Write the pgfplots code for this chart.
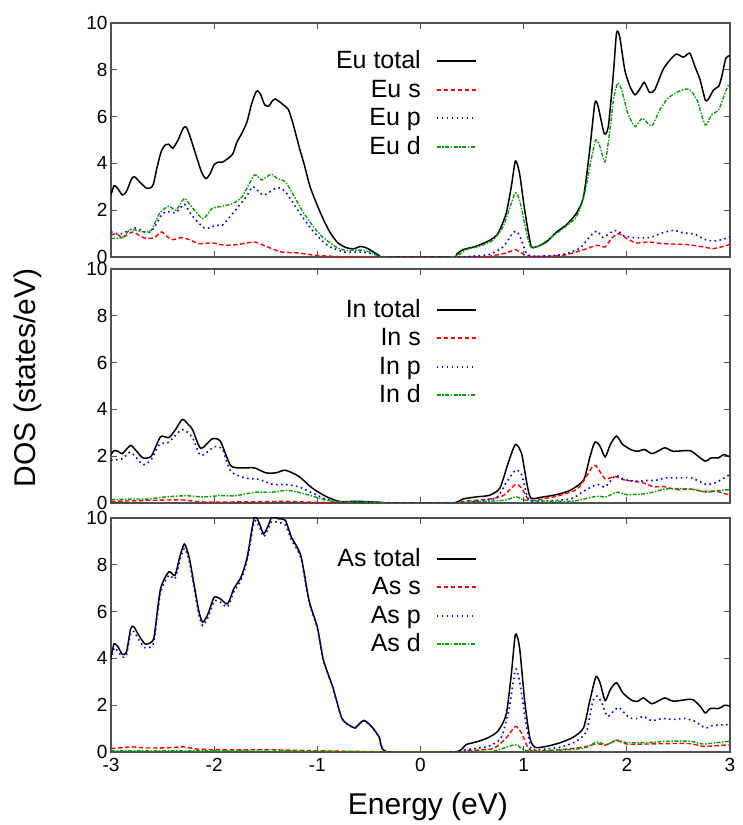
\documentclass[border=0pt]{standalone}
\usepackage{fontspec}
\setmainfont{Liberation Sans}
\usepackage{pgfplots}
\pgfplotsset{compat=1.18}
\definecolor{gpred}{RGB}{255,0,0}
\definecolor{gpblue}{RGB}{0,0,255}
\definecolor{gpgreen}{RGB}{0,160,0}
\definecolor{axgray}{RGB}{80,80,80}
\pgfplotsset{
  dosaxis/.style={
    scale only axis, width=619bp, height=234bp,
    xmin=-3, xmax=3, ymin=0, ymax=10,
    xtick={-3,-2,...,3}, ytick={0,2,...,10},
    tick align=inside, major tick length=6bp,
    axis line style={axgray, line width=1.1bp},
    every tick/.style={axgray, line width=1.1bp},
    tick label style={font=\fontsize{19bp}{22bp}\selectfont},
    xticklabel style={yshift=-2.5bp},
    /pgf/number format/assume math mode=true,
    legend cell align=right, legend plot pos=right,
    legend style={draw=none, fill=none, anchor=north east, inner sep=0pt,
      font=\fontsize{25bp}{28.5bp}\selectfont, row sep=0pt, column sep=15bp,
      nodes={inner sep=0pt, text height=21.65bp, text depth=6.85bp}},
    legend image code/.code={\draw[##1, line width=2bp] (0bp,0bp) -- (39bp,0bp);},
  },
  tot/.style={black, line width=1.5bp},
  sst/.style={gpred, line width=1.4bp, dash pattern=on 4.5bp off 2.5bp},
  pst/.style={gpblue, line width=1.6bp, dash pattern=on 1.6bp off 3.4bp},
  dst/.style={gpgreen, line width=1.4bp, dash pattern=on 4bp off 1.5bp on 1.5bp off 1.5bp},
  sm/.style={smooth, tension=0.4},
}
\begin{document}
\begin{tikzpicture}[x=1bp,y=1bp]
\useasboundingbox (0,0) rectangle (743,825);
% ---------------- Eu panel ----------------
\begin{axis}[dosaxis, at={(111bp,568bp)}, anchor=south west, xticklabels={},
  legend style={at={(rel axis cs:0.5913,0.8975)}}]
\addplot[tot, sm] table {
-3.00 2.65
-2.97 3.05
-2.93 2.90
-2.89 2.65
-2.85 2.80
-2.80 3.35
-2.77 3.42
-2.72 3.20
-2.66 2.95
-2.62 2.95
-2.59 3.10
-2.55 3.90
-2.51 4.55
-2.47 4.80
-2.44 4.82
-2.40 4.65
-2.35 5.00
-2.30 5.50
-2.27 5.55
-2.23 5.10
-2.18 4.40
-2.12 3.60
-2.08 3.35
-2.04 3.55
-2.00 3.95
-1.96 4.05
-1.92 4.05
-1.87 4.20
-1.82 4.40
-1.78 4.90
-1.73 5.30
-1.68 5.80
-1.64 6.50
-1.60 7.00
-1.58 7.10
-1.55 6.95
-1.51 6.50
-1.47 6.45
-1.44 6.65
-1.41 6.75
-1.37 6.65
-1.33 6.50
-1.28 6.30
-1.23 5.60
-1.17 4.60
-1.13 4.00
-1.07 3.00
-1.00 2.20
-0.93 1.50
-0.87 1.00
-0.80 0.60
-0.72 0.40
-0.65 0.35
-0.58 0.45
-0.52 0.38
-0.45 0.20
-0.40 0.06
-0.35 0.00
0.30 0.00
0.35 0.12
0.41 0.31
0.54 0.46
0.67 0.71
0.75 1.00
0.83 1.86
0.88 3.00
0.92 4.10
0.96 3.57
1.01 2.00
1.07 0.50
1.12 0.43
1.22 0.64
1.32 1.07
1.41 1.36
1.51 1.86
1.58 2.57
1.64 4.57
1.69 6.57
1.72 6.46
1.78 5.29
1.82 5.57
1.87 7.86
1.90 9.57
1.93 9.43
1.98 8.00
2.03 7.29
2.08 6.93
2.13 7.21
2.17 7.46
2.22 7.03
2.27 7.14
2.35 8.00
2.42 8.43
2.48 8.67
2.55 8.54
2.61 8.71
2.66 8.14
2.71 7.57
2.76 6.71
2.79 6.74
2.84 7.14
2.89 7.29
2.92 7.71
2.96 8.50
3.00 8.60
};
\addlegendentry{Eu total}
\addplot[sst, sm] table {
-3.00 0.93
-2.95 1.00
-2.89 0.83
-2.79 1.07
-2.72 0.90
-2.66 0.79
-2.58 0.83
-2.51 1.07
-2.45 0.85
-2.40 0.74
-2.31 0.83
-2.22 0.70
-2.15 0.57
-2.02 0.60
-1.89 0.50
-1.76 0.54
-1.61 0.64
-1.50 0.46
-1.42 0.32
-1.34 0.21
-1.18 0.17
-1.02 0.07
-0.85 0.03
-0.60 0.00
0.60 0.00
0.67 0.03
0.83 0.17
0.92 0.31
0.99 0.14
1.06 0.03
1.38 0.07
1.58 0.31
1.71 0.50
1.79 0.43
1.85 0.79
1.92 1.00
2.00 0.79
2.09 0.60
2.22 0.64
2.35 0.57
2.58 0.53
2.74 0.43
2.84 0.36
2.94 0.46
3.00 0.54
};
\addlegendentry{Eu s}
\addplot[pst, sm] table {
-3.00 1.07
-2.95 1.00
-2.89 1.00
-2.77 1.24
-2.66 1.04
-2.60 1.14
-2.50 1.86
-2.44 1.93
-2.37 1.90
-2.29 2.26
-2.23 1.86
-2.15 1.45
-2.08 1.21
-1.98 1.36
-1.92 1.36
-1.82 1.86
-1.69 2.57
-1.63 3.00
-1.58 2.85
-1.52 2.64
-1.39 2.96
-1.31 2.79
-1.21 2.14
-1.11 1.50
-1.02 1.00
-0.89 0.46
-0.73 0.21
-0.56 0.21
-0.45 0.12
-0.35 0.00
0.30 0.00
0.48 0.03
0.67 0.11
0.80 0.43
0.88 0.93
0.92 1.11
0.96 0.93
1.03 0.14
1.12 0.03
1.38 0.11
1.54 0.36
1.64 0.86
1.71 1.11
1.77 0.83
1.84 1.04
1.91 1.14
1.96 0.93
2.06 0.83
2.22 0.83
2.35 1.04
2.45 1.14
2.55 1.03
2.66 0.97
2.76 0.74
2.87 0.69
3.00 0.86
};
\addlegendentry{Eu p}
\addplot[dst, sm] table {
-3.00 0.79
-2.89 0.83
-2.81 1.17
-2.68 1.07
-2.61 1.14
-2.53 1.86
-2.44 2.17
-2.37 2.00
-2.29 2.50
-2.23 2.21
-2.11 1.64
-2.02 2.07
-1.92 2.17
-1.82 2.29
-1.73 2.57
-1.61 3.50
-1.54 3.29
-1.45 3.54
-1.39 3.36
-1.31 3.21
-1.23 2.64
-1.15 2.00
-1.05 1.36
-0.95 0.86
-0.82 0.43
-0.73 0.29
-0.56 0.29
-0.45 0.15
-0.35 0.00
0.30 0.00
0.44 0.31
0.57 0.46
0.70 0.71
0.80 1.29
0.88 2.29
0.92 2.74
0.96 2.43
1.03 1.00
1.07 0.43
1.16 0.50
1.25 0.79
1.38 1.21
1.51 1.71
1.59 2.71
1.66 4.29
1.70 5.00
1.74 4.71
1.79 4.07
1.84 5.57
1.87 6.71
1.91 7.43
1.95 7.14
2.01 6.14
2.08 5.57
2.15 5.93
2.24 5.60
2.32 6.29
2.40 6.79
2.50 7.07
2.60 7.17
2.68 6.71
2.76 5.64
2.82 6.07
2.89 6.29
2.94 6.86
2.98 7.31
3.00 7.31
};
\addlegendentry{Eu d}
\end{axis}
% ---------------- In panel ----------------
\begin{axis}[dosaxis, at={(111bp,322bp)}, anchor=south west, xticklabels={},
  legend style={at={(rel axis cs:0.5913,0.887)}},
  ylabel={DOS (states/eV)},
  ylabel style={at={(axis description cs:-0.134,0.534)}, anchor=center, font=\fontsize{30bp}{34bp}\selectfont}]
\addplot[tot, sm] table {
-3.00 2.07
-2.97 2.24
-2.93 2.20
-2.89 2.11
-2.81 2.46
-2.75 2.20
-2.69 1.93
-2.61 2.00
-2.52 2.83
-2.44 2.79
-2.38 3.10
-2.31 3.57
-2.26 3.40
-2.21 3.14
-2.13 2.33
-2.02 2.74
-1.94 2.64
-1.84 1.60
-1.73 1.50
-1.61 1.50
-1.50 1.29
-1.40 1.29
-1.31 1.40
-1.18 1.14
-1.05 0.64
-0.92 0.29
-0.79 0.07
-0.60 0.07
-0.40 0.03
-0.30 0.00
0.30 0.00
0.41 0.17
0.54 0.26
0.67 0.33
0.77 0.64
0.85 1.71
0.92 2.50
0.98 2.11
1.03 0.86
1.07 0.21
1.19 0.26
1.32 0.36
1.45 0.54
1.58 0.97
1.64 1.93
1.69 2.60
1.74 2.43
1.79 1.97
1.84 2.50
1.90 2.86
1.96 2.50
2.05 2.26
2.11 2.21
2.17 2.29
2.24 2.11
2.30 2.21
2.37 2.36
2.45 2.21
2.61 2.24
2.69 2.00
2.76 1.79
2.82 1.93
2.89 1.93
2.94 2.07
3.00 1.97
};
\addlegendentry{In total}
\addplot[sst, sm] table {
-3.00 0.07
-2.79 0.09
-2.55 0.12
-2.31 0.13
-2.08 0.04
-1.50 0.06
-1.31 0.07
-1.02 0.03
-0.40 0.00
0.35 0.00
0.41 0.07
0.67 0.17
0.80 0.31
0.92 0.79
0.98 0.64
1.04 0.17
1.09 0.11
1.32 0.29
1.51 0.57
1.59 1.00
1.66 1.50
1.70 1.60
1.79 1.03
1.88 1.14
1.96 1.00
2.06 0.93
2.16 0.86
2.26 0.69
2.35 0.71
2.48 0.57
2.61 0.60
2.74 0.50
2.87 0.50
3.00 0.33
};
\addlegendentry{In s}
\addplot[pst, sm] table {
-3.00 1.83
-2.89 1.89
-2.81 2.17
-2.69 1.64
-2.61 1.86
-2.53 2.50
-2.44 2.60
-2.31 3.14
-2.21 2.79
-2.13 2.03
-2.00 2.40
-1.92 2.29
-1.84 1.36
-1.70 1.07
-1.56 1.00
-1.43 0.79
-1.31 0.79
-1.18 0.69
-1.05 0.43
-0.92 0.17
-0.79 0.04
-0.40 0.03
-0.30 0.00
0.35 0.00
0.48 0.04
0.73 0.21
0.83 0.86
0.92 1.40
0.98 1.21
1.04 0.21
1.12 0.07
1.45 0.17
1.58 0.50
1.71 0.79
1.79 0.69
1.89 1.17
1.98 1.00
2.09 0.93
2.19 0.96
2.28 0.97
2.38 1.07
2.51 1.07
2.63 1.07
2.77 0.79
2.87 0.89
2.98 1.17
3.00 1.21
};
\addlegendentry{In p}
\addplot[dst, sm] table {
-3.00 0.14
-2.79 0.17
-2.63 0.17
-2.47 0.26
-2.27 0.31
-2.11 0.26
-1.95 0.31
-1.79 0.31
-1.60 0.46
-1.44 0.46
-1.30 0.54
-1.18 0.46
-1.02 0.26
-0.85 0.07
-0.40 0.03
-0.30 0.00
0.35 0.00
0.44 0.04
0.80 0.11
0.93 0.26
1.03 0.11
1.45 0.07
1.58 0.17
1.71 0.29
1.80 0.26
1.90 0.46
2.00 0.36
2.19 0.40
2.38 0.60
2.61 0.60
2.77 0.46
2.90 0.54
3.00 0.57
};
\addlegendentry{In d}
\end{axis}
% ---------------- As panel ----------------
\begin{axis}[dosaxis, at={(111bp,73bp)}, anchor=south west,
  legend style={at={(rel axis cs:0.5913,0.888)}},
  xlabel={Energy (eV)},
  xlabel style={at={(axis description cs:0.512,-0.235)}, anchor=center, font=\fontsize{30bp}{34bp}\selectfont}]
\addplot[tot, sm] table {
-3.00 4.05
-2.97 4.62
-2.93 4.48
-2.89 4.17
-2.85 4.27
-2.81 5.26
-2.78 5.36
-2.73 4.98
-2.67 4.62
-2.61 4.69
-2.58 4.98
-2.52 6.97
-2.44 7.70
-2.38 7.55
-2.33 8.40
-2.29 8.89
-2.26 8.60
-2.23 8.04
-2.15 6.05
-2.11 5.55
-2.06 5.90
-2.00 6.61
-1.94 6.54
-1.87 6.33
-1.81 6.97
-1.74 7.47
-1.68 8.32
-1.61 10.05
-1.56 9.74
-1.52 9.32
-1.47 9.74
-1.44 10.05
-1.37 9.96
-1.31 9.90
-1.25 9.17
-1.16 8.39
-1.08 6.47
-1.00 5.33
-0.94 3.91
-0.85 2.77
-0.76 1.42
-0.66 1.07
-0.63 1.04
-0.55 1.35
-0.47 1.07
-0.40 0.64
-0.32 0.00
0.33 0.00
0.44 0.31
0.54 0.43
0.65 0.60
0.75 0.89
0.83 1.60
0.88 3.31
0.92 5.03
0.96 4.46
1.01 2.17
1.06 0.60
1.11 0.20
1.22 0.24
1.35 0.39
1.48 0.63
1.58 1.03
1.64 2.17
1.70 3.21
1.74 2.96
1.79 2.20
1.84 2.67
1.90 2.96
1.96 2.53
2.05 2.20
2.11 2.17
2.16 2.31
2.24 2.06
2.30 2.17
2.37 2.31
2.45 2.17
2.58 2.24
2.64 2.24
2.71 1.96
2.76 1.67
2.81 1.86
2.89 1.86
2.95 2.00
3.00 1.96
};
\addlegendentry{As total}
\addplot[sst, sm] table {
-3.00 0.15
-2.90 0.18
-2.80 0.22
-2.65 0.17
-2.45 0.18
-2.30 0.22
-2.15 0.12
-1.80 0.09
-1.50 0.10
-1.00 0.05
-0.50 0.02
-0.32 0.00
0.35 0.00
0.44 0.06
0.70 0.14
0.83 0.60
0.92 1.09
0.98 0.81
1.04 0.20
1.11 0.03
1.45 0.14
1.61 0.24
1.71 0.36
1.79 0.29
1.90 0.49
2.00 0.34
2.19 0.34
2.42 0.36
2.61 0.36
2.74 0.24
2.87 0.27
3.00 0.31
};
\addlegendentry{As s}
\addplot[pst, sm] table {
-3.00 3.95
-2.97 4.45
-2.93 4.30
-2.89 4.05
-2.85 4.15
-2.81 5.05
-2.78 5.15
-2.73 4.80
-2.67 4.45
-2.61 4.50
-2.58 4.80
-2.52 6.80
-2.44 7.55
-2.38 7.40
-2.33 8.25
-2.29 8.70
-2.26 8.45
-2.23 7.90
-2.15 5.90
-2.11 5.40
-2.06 5.75
-2.00 6.45
-1.94 6.40
-1.87 6.20
-1.81 6.85
-1.74 7.35
-1.68 8.20
-1.61 9.85
-1.56 9.60
-1.52 9.20
-1.47 9.60
-1.44 9.85
-1.37 9.80
-1.31 9.70
-1.25 9.05
-1.16 8.30
-1.08 6.40
-1.00 5.30
-0.94 3.90
-0.85 2.75
-0.76 1.40
-0.66 1.05
-0.63 1.03
-0.55 1.33
-0.47 1.05
-0.40 0.62
-0.32 0.00
0.35 0.00
0.44 0.10
0.65 0.24
0.78 0.60
0.86 1.89
0.92 3.53
0.96 3.03
1.02 1.31
1.07 0.17
1.12 0.10
1.35 0.20
1.51 0.46
1.61 0.89
1.67 2.17
1.71 2.39
1.75 2.17
1.81 1.53
1.87 1.74
1.92 1.91
1.96 1.74
2.03 1.46
2.11 1.43
2.16 1.53
2.24 1.34
2.35 1.43
2.45 1.39
2.56 1.43
2.66 1.31
2.76 1.03
2.84 1.14
3.00 1.17
};
\addlegendentry{As p}
\addplot[dst, sm] table {
-3.00 0.05
-2.00 0.05
-1.00 0.03
-0.32 0.00
0.40 0.00
0.70 0.03
0.92 0.31
1.03 0.06
1.45 0.10
1.61 0.20
1.71 0.43
1.80 0.31
1.90 0.51
2.00 0.40
2.19 0.40
2.42 0.46
2.61 0.46
2.74 0.34
2.87 0.40
3.00 0.46
};
\addlegendentry{As d}
\end{axis}
\end{tikzpicture}
\end{document}
